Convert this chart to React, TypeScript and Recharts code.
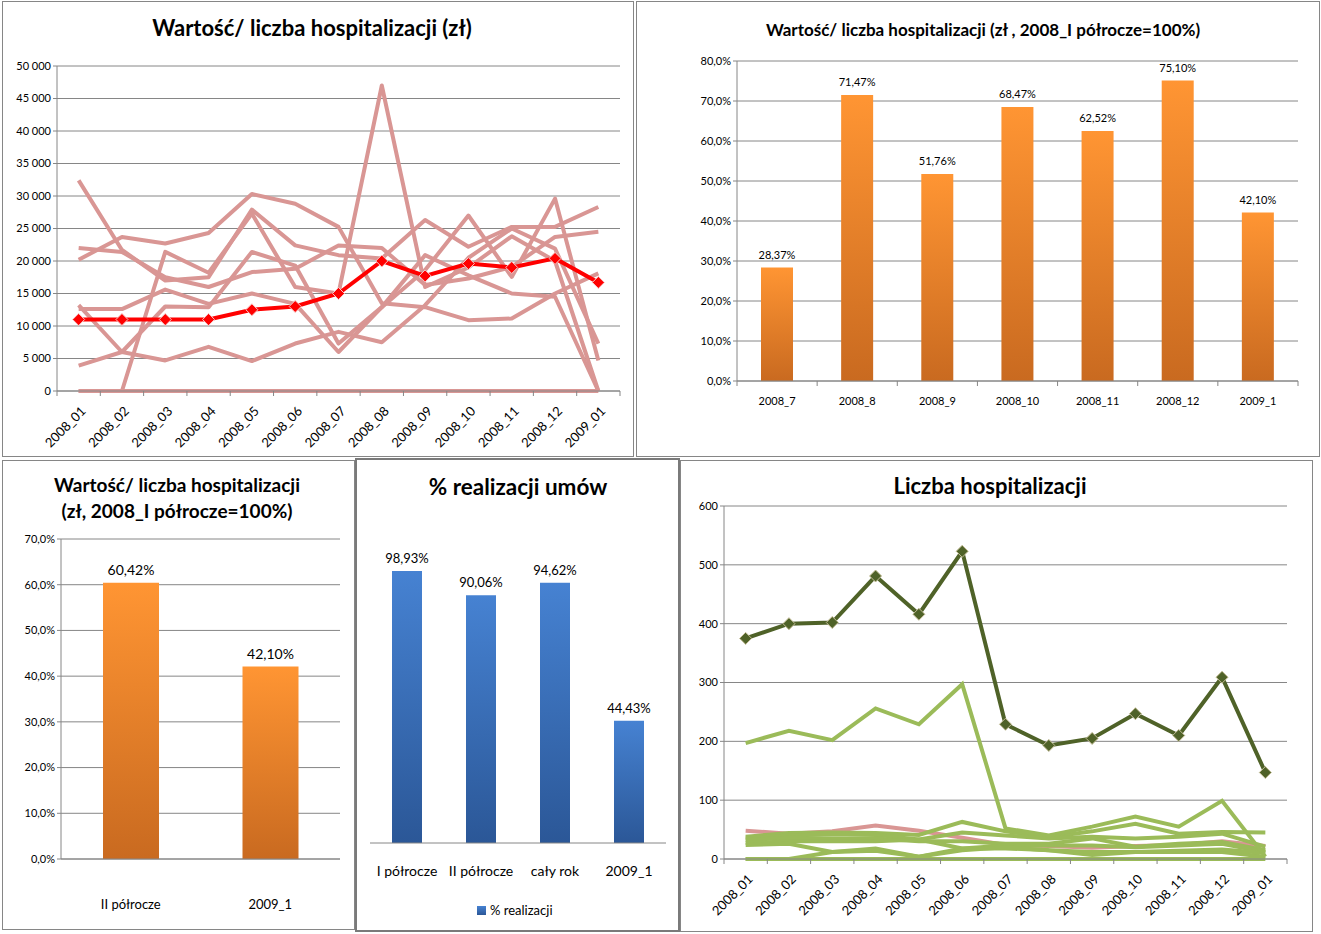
import React from 'react';
import { LineChart, Line, BarChart, Bar, XAxis, YAxis, CartesianGrid, LabelList } from 'recharts';

const FONT = 'Lato, "Noto Sans", sans-serif';
const GRID = '#868686';

// ---- Wartość / liczba hospitalizacji (zł) ----
const months = ['2008_01', '2008_02', '2008_03', '2008_04', '2008_05', '2008_06', '2008_07', '2008_08', '2008_09', '2008_10', '2008_11', '2008_12', '2009_01'];
const avgValue = [11000, 11000, 11000, 11000, 12500, 13000, 15000, 20000, 17700, 19600, 19000, 20400, 16700];
const valueA = [32400, 21700, 17000, 17500, 27900, 22400, 20900, 20400, 26300, 22200, 25250, 25250, 28300];
const valueB = [22000, 21400, 17500, 16000, 18300, 18800, 22400, 22000, 16300, 17300, 19100, 23700, 24500];
const valueC = [20200, 23700, 22700, 24300, 30300, 28800, 25250, 13500, 12900, 10900, 11150, 15000, 18100];
const valueD = [13200, 6000, 4700, 6800, 4600, 7300, 9100, 7500, 13200, 20500, 25000, 21900, 7300];
const valueE = [12600, 12600, 15600, 13400, 15000, 13400, 6000, 12900, 18600, 27000, 17550, 29600, 4700];
const valueF = [3900, 6000, 13000, 12900, 21400, 19300, 7300, 12900, 20900, 17800, 15000, 14500, 0];
const valueG = [0, 0, 21400, 18200, 27300, 16000, 15000, 47000, 16000, 19000, 23800, 20000, 0];
const valueH = [0, 0, 0, 0, 0, 0, 0, 0, 0, 0, 0, 0, 0];
const valueSeries = [valueA, valueB, valueC, valueD, valueE, valueF, valueG, valueH];
const valueTicks = [0, 5000, 10000, 15000, 20000, 25000, 30000, 35000, 40000, 45000, 50000];

// ---- index charts (2008_I półrocze = 100%) ----
const monthIdx = ['2008_7', '2008_8', '2008_9', '2008_10', '2008_11', '2008_12', '2009_1'];
const monthIdxValue = [28.37, 71.47, 51.76, 68.47, 62.52, 75.1, 42.1];
const monthIdxTicks = [0, 10, 20, 30, 40, 50, 60, 70, 80];

const halfIdx = ['II półrocze', '2009_1'];
const halfIdxValue = [60.42, 42.1];
const halfIdxTicks = [0, 10, 20, 30, 40, 50, 60, 70];

// ---- % realizacji umów ----
const periods = ['I półrocze', 'II półrocze', 'cały rok', '2009_1'];
const realization = [98.93, 90.06, 94.62, 44.43];

// ---- Liczba hospitalizacji ----
const countTotal = [375, 400, 402, 481, 416, 523, 229, 193, 205, 247, 210, 309, 147];
const countMain = [197, 218, 202, 256, 229, 297, 52, 40, 55, 72, 55, 99, 4];
const countG1 = [38, 44, 45, 44, 41, 63, 47, 37, 47, 60, 43, 46, 45];
const countG2 = [35, 40, 42, 41, 33, 45, 40, 35, 38, 35, 38, 43, 21];
const countG3 = [32, 36, 35, 35, 30, 30, 26, 26, 35, 21, 26, 29, 15];
const countG4 = [27, 30, 30, 30, 33, 18, 23, 23, 23, 20, 23, 26, 12];
const countG5 = [24, 26, 12, 18, 4, 18, 18, 15, 7, 12, 12, 12, 4];
const countG6 = [0, 0, 12, 14, 4, 15, 20, 15, 12, 12, 14, 16, 10];
const countG7 = [0, 0, 0, 0, 0, 0, 0, 0, 0, 0, 0, 0, 0];
const countPink = [48, 43, 47, 57, 48, 36, 24, 22, 19, 22, 24, 30, 22];
const countGreens = [countG1, countG2, countG3, countG4, countG5, countG6, countG7];
const countTicks = [0, 100, 200, 300, 400, 500, 600];

const valueData = months.map((m, i) => {
  const row: any = { month: m, avg: avgValue[i] };
  valueSeries.forEach((s, k) => (row['s' + k] = s[i]));
  return row;
});
const countData = months.map((m, i) => {
  const row: any = { month: m, total: countTotal[i], main: countMain[i], pink: countPink[i] };
  countGreens.forEach((s, k) => (row['g' + k] = s[i]));
  return row;
});
const monthIdxData = monthIdx.map((m, i) => ({ name: m, v: monthIdxValue[i] }));
const halfIdxData = halfIdx.map((m, i) => ({ name: m, v: halfIdxValue[i] }));
const realData = periods.map((m, i) => ({ name: m, v: realization[i] }));

const spaced = (v: number) => String(v).replace(/\B(?=(\d{3})+(?!\d))/g, ' ');
const pct1 = (v: number) => `${v.toFixed(1).replace('.', ',')}%`;
const pct2 = (v: number) => `${Number(v).toFixed(2).replace('.', ',')}%`;

function RotatedTick(props: any) {
  const { x, y, payload, index, band, count } = props;
  const tx = x + 8;
  const ty = y + 21;
  return (
    <g>
      <line x1={x - band / 2} x2={x - band / 2} y1={y} y2={y + 5} stroke={GRID} />
      {index === count - 1 && <line x1={x + band / 2} x2={x + band / 2} y1={y} y2={y + 5} stroke={GRID} />}
      <text x={tx} y={ty} textAnchor="end" transform={`rotate(-45 ${tx} ${ty})`} fontSize={13} fontFamily={FONT} fill="#000">
        {payload.value}
      </text>
    </g>
  );
}

function FlatTick(props: any) {
  const { x, y, payload, index, band, count, marks, dy, size } = props;
  return (
    <g>
      {marks && <line x1={x - band / 2} x2={x - band / 2} y1={y} y2={y + 5} stroke={GRID} />}
      {marks && index === count - 1 && <line x1={x + band / 2} x2={x + band / 2} y1={y} y2={y + 5} stroke={GRID} />}
      <text x={x} y={y + dy} textAnchor="middle" fontSize={size} fontFamily={FONT} fill="#000">
        {payload.value}
      </text>
    </g>
  );
}

function Diamond(props: any) {
  const { cx, cy, fill, stroke, r, index } = props;
  if (cx == null || cy == null) return <g key={`d-${index}`} />;
  return (
    <polygon
      key={`d-${index}`}
      points={`${cx},${cy - r} ${cx + r},${cy} ${cx},${cy + r} ${cx - r},${cy}`}
      fill={fill}
      stroke={stroke}
      strokeWidth={1}
    />
  );
}

const panel = (left: number, top: number, width: number, height: number, extra: any = {}) => ({
  position: 'absolute' as const,
  left,
  top,
  width,
  height,
  boxSizing: 'border-box' as const,
  border: `1px solid ${GRID}`,
  pointerEvents: 'none' as const,
  ...extra,
});

const title = (cx: number, top: number, size: number, width = 600, lh = size + 6): React.CSSProperties => ({
  position: 'absolute',
  left: cx - width / 2,
  top,
  width,
  textAlign: 'center',
  fontFamily: FONT,
  fontWeight: 700,
  fontSize: size,
  lineHeight: `${lh}px`,
  color: '#000',
  whiteSpace: 'nowrap',
});

const yTick = { fill: '#000', fontSize: 11, fontFamily: FONT };

export default function App() {
  const band1 = 563 / 13;
  const band2 = 561 / 7;
  const band5 = 563 / 13;
  return (
    <div style={{ position: 'absolute', left: 0, top: 0, width: 1321, height: 934, background: '#fff', fontFamily: FONT }}>
      <svg width={0} height={0} style={{ position: 'absolute' }}>
        <defs>
          <linearGradient id="orangeBar" x1="0" y1="0" x2="0" y2="1">
            <stop offset="0" stopColor="#FF9533" />
            <stop offset="1" stopColor="#C96A20" />
          </linearGradient>
          <linearGradient id="blueBar" x1="0" y1="0" x2="0" y2="1">
            <stop offset="0" stopColor="#4682D2" />
            <stop offset="1" stopColor="#2B5797" />
          </linearGradient>
        </defs>
      </svg>

      {/* Chart 1 */}
      <div style={{ position: 'absolute', left: 2, top: 1 }}>
        <LineChart width={632} height={456} data={valueData} margin={{ top: 65, right: 14, bottom: 0, left: 5 }}>
          <CartesianGrid vertical={false} stroke={GRID} />
          <XAxis
            dataKey="month"
            height={66}
            padding={{ left: band1 / 2, right: band1 / 2 }}
            stroke={GRID}
            tickLine={false}
            tickSize={0}
            tickMargin={0}
            interval={0}
            tick={(p: any) => <RotatedTick {...p} band={band1} count={13} />}
          />
          <YAxis width={50} domain={[0, 50000]} ticks={valueTicks} tickFormatter={spaced} stroke={GRID} tickSize={4} tick={yTick} interval={0} />
          {valueSeries.map((_, k) => (
            <Line key={k} dataKey={'s' + k} stroke="#D99694" strokeWidth={4} dot={false} isAnimationActive={false} strokeLinejoin="round" />
          ))}
          <Line
            dataKey="avg"
            stroke="#FF0000"
            strokeWidth={4}
            isAnimationActive={false}
            dot={(p: any) => <Diamond {...p} key={`a-${p.index}`} r={6} fill="#FF0000" stroke="#F8C8C8" />}
          />
        </LineChart>
      </div>
      <div style={title(312, 14, 22)}>Wartość/ liczba hospitalizacji (zł)</div>
      <div style={panel(2, 1, 632, 456)} />

      {/* Chart 2 */}
      <div style={{ position: 'absolute', left: 636, top: 1 }}>
        <BarChart width={684} height={456} data={monthIdxData} margin={{ top: 60, right: 22, bottom: 0, left: 51 }}>
          <CartesianGrid vertical={false} stroke={GRID} />
          <XAxis
            dataKey="name"
            height={76}
            stroke={GRID}
            tickLine={false}
            tickSize={0}
            tickMargin={0}
            interval={0}
            tick={(p: any) => <FlatTick {...p} band={band2} count={7} marks dy={24} size={11} />}
          />
          <YAxis width={50} domain={[0, 80]} ticks={monthIdxTicks} tickFormatter={pct1} stroke={GRID} tickSize={4} tick={yTick} interval={0} />
          <Bar dataKey="v" fill="url(#orangeBar)" barSize={32} isAnimationActive={false}>
            <LabelList dataKey="v" position="top" offset={9} formatter={pct2} fill="#000" fontSize={11} fontFamily={FONT} />
          </Bar>
        </BarChart>
      </div>
      <div style={title(983, 18, 17)}>Wartość/ liczba hospitalizacji (zł , 2008_I półrocze=100%)</div>
      <div style={panel(636, 1, 684, 456)} />

      {/* Chart 3 */}
      <div style={{ position: 'absolute', left: 2, top: 460 }}>
        <BarChart width={353} height={470} data={halfIdxData} margin={{ top: 79, right: 15, bottom: 0, left: 9 }}>
          <CartesianGrid vertical={false} stroke={GRID} />
          <XAxis
            dataKey="name"
            height={71}
            stroke={GRID}
            tickLine={false}
            tickSize={0}
            tickMargin={0}
            interval={0}
            tick={(p: any) => <FlatTick {...p} band={139.5} count={2} marks={false} dy={50} size={13} />}
          />
          <YAxis width={50} domain={[0, 70]} ticks={halfIdxTicks} tickFormatter={pct1} stroke={GRID} tickSize={4} tick={yTick} interval={0} />
          <Bar dataKey="v" fill="url(#orangeBar)" barSize={56} isAnimationActive={false}>
            <LabelList dataKey="v" position="top" offset={8} formatter={pct2} fill="#000" fontSize={14} fontFamily={FONT} />
          </Bar>
        </BarChart>
      </div>
      <div style={title(177, 472, 19, 350, 26)}>
        Wartość/ liczba hospitalizacji
        <br />
        (zł, 2008_I półrocze=100%)
      </div>
      <div style={panel(2, 460, 353, 470)} />

      {/* Chart 4 */}
      <div style={{ position: 'absolute', left: 355, top: 458 }}>
        <BarChart width={325} height={474} data={realData} margin={{ top: 55, right: 14, bottom: 0, left: 15 }}>
          <XAxis
            dataKey="name"
            height={89}
            stroke={GRID}
            tickLine={false}
            tickSize={0}
            tickMargin={0}
            interval={0}
            tick={(p: any) => <FlatTick {...p} band={74} count={4} marks={false} dy={33} size={14} />}
          />
          <YAxis hide domain={[0, 120]} />
          <Bar dataKey="v" fill="url(#blueBar)" barSize={30} isAnimationActive={false}>
            <LabelList dataKey="v" position="top" offset={8} formatter={pct2} fill="#000" fontSize={13} fontFamily={FONT} />
          </Bar>
        </BarChart>
      </div>
      <div style={title(518, 473, 22.5, 320)}>% realizacji umów</div>
      <div style={{ position: 'absolute', left: 477, top: 902, display: 'flex', alignItems: 'center', fontFamily: FONT, fontSize: 13, color: '#000' }}>
        <span style={{ display: 'inline-block', width: 9, height: 9, background: 'linear-gradient(#4682D2, #2B5797)', marginRight: 4 }} />
        % realizacji
      </div>
      <div style={panel(355, 458, 325, 474, { border: '2px solid #7a7a7a' })} />

      {/* Chart 5 */}
      <div style={{ position: 'absolute', left: 680, top: 460 }}>
        <LineChart width={633} height={472} data={countData} margin={{ top: 46, right: 26, bottom: 0, left: 4 }}>
          <CartesianGrid vertical={false} stroke={GRID} />
          <XAxis
            dataKey="month"
            height={73}
            padding={{ left: band5 / 2, right: band5 / 2 }}
            stroke={GRID}
            tickLine={false}
            tickSize={0}
            tickMargin={0}
            interval={0}
            tick={(p: any) => <RotatedTick {...p} band={band5} count={13} />}
          />
          <YAxis width={40} domain={[0, 600]} ticks={countTicks} stroke={GRID} tickSize={4} tick={yTick} interval={0} />
          <Line dataKey="pink" stroke="#D99694" strokeWidth={4} dot={false} isAnimationActive={false} />
          {countGreens.map((_, k) => (
            <Line key={k} dataKey={'g' + k} stroke="#9BBB59" strokeWidth={4} dot={false} isAnimationActive={false} />
          ))}
          <Line dataKey="main" stroke="#9BBB59" strokeWidth={4} dot={false} isAnimationActive={false} />
          <Line
            dataKey="total"
            stroke="#4F6228"
            strokeWidth={4}
            isAnimationActive={false}
            dot={(p: any) => <Diamond {...p} key={`t-${p.index}`} r={6} fill="#4F6228" stroke="#C4BD97" />}
          />
        </LineChart>
      </div>
      <div style={title(990, 472, 22)}>Liczba hospitalizacji</div>
      <div style={panel(680, 460, 633, 472)} />
    </div>
  );
}
